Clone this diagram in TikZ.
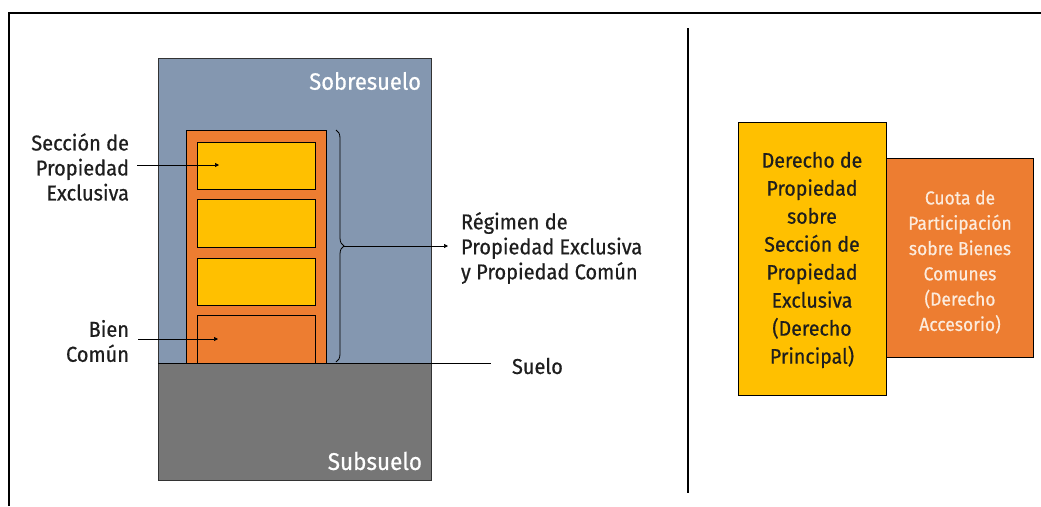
\documentclass[tikz,border=0pt]{standalone}
\usepackage{fontspec}
\setmainfont[FakeBold=0.6,FakeStretch=0.93]{Fira Sans}
\usetikzlibrary{decorations.pathreplacing,arrows.meta}
\definecolor{sueloblue}{HTML}{8497B0}
\definecolor{subgrey}{HTML}{767676}
\definecolor{orng}{HTML}{ED7D31}
\definecolor{gold}{HTML}{FFC000}
\definecolor{inktext}{HTML}{1E1E1E}
\definecolor{lighttext}{HTML}{FCEBDC}
\begin{document}
\begin{tikzpicture}[x=1pt,y=-1pt,
  every node/.style={inner sep=0pt,outer sep=0pt},
  area/.style={draw=black!80,line width=0.8pt,minimum width=#1},
  cell/.style={draw=black,line width=0.8pt,minimum width=118pt},
  lbl/.style={text=inktext,font=\fontsize{21.5}{25}\selectfont},
  wlbl/.style={text=white,font=\fontsize{23.6}{26}\selectfont},
  ptr/.style={-{Triangle[length=4pt,width=4pt]},line width=0.7pt,black}]
\useasboundingbox (0,0) rectangle (1041,506);
% frame
\draw[line width=1.6pt] (9,506) -- (9,13) -- (1041,13);
% ground areas
\node[area=273pt,fill=sueloblue,minimum height=305pt] (sobre) at (294.5,210.5) {};
\node[area=273pt,fill=subgrey,minimum height=117pt] (sub) at (294.5,421.5) {};
\node[wlbl,anchor=east] (sobreT) at (421,81) {Sobresuelo};
\node[wlbl,anchor=east,font=\fontsize{24.2}{26}\selectfont] (subT) at (422,461) {Subsuelo};
% building
\node[draw=black,line width=0.8pt,fill=orng,minimum width=140pt,minimum height=233pt] (bldg) at (256,246.5) {};
\node[cell,fill=gold,minimum height=47pt] (u1) at (256,165.5) {};
\node[cell,fill=gold,minimum height=48pt] (u2) at (256,223) {};
\node[cell,fill=gold,minimum height=47pt] (u3) at (256,281.5) {};
\node[cell,fill=orng,minimum height=48pt] (u4) at (256,339) {};
% suelo line
\coordinate (sueloEnd) at (491,363);
\draw[line width=0.8pt] (sobre.south west) -- (sueloEnd);
\node[lbl,anchor=west] (sueloT) at (512,366) {Suelo};
% left labels
\node[lbl,align=right,anchor=east] (secT) at (129,167) {Sección de\\Propiedad\\Exclusiva};
\coordinate (secTip) at (219,165);
\draw[ptr] (secT.east) ++(8,-2) coordinate (secStart) -- (secTip);
\node[lbl,align=right,anchor=east] (bienT) at (129,341) {Bien\\Común};
\coordinate (bienTip) at (218,339);
\draw[ptr] (bienT.east) ++(9,-2) coordinate (bienStart) -- (bienTip);
% brace
\coordinate (brTop) at (336,130);
\coordinate (brBot) at (336,362);
\draw[line width=0.8pt,decorate,decoration={brace,amplitude=8pt}] (brTop) -- (brBot);
\coordinate (brTip) at (344,246);
\node[lbl,align=left,anchor=west] (regT) at (461,248) {Régimen de\\Propiedad Exclusiva\\y Propiedad Común};
\draw[ptr] (brTip) -- ([xshift=-13pt]regT.west |- brTip);
% divider
\coordinate (divTop) at (688,28);
\coordinate (divBot) at (688,493);
\draw[line width=1.2pt] (divTop) -- (divBot);
% rights
\node[draw=black,line width=0.8pt,fill=orng,minimum width=147pt,minimum height=199pt] (cuota) at (959.5,257.5) {};
\node[text=lighttext,align=center,font=\fontsize{18.8}{25.3}\selectfont] (cuotaT) at (960,262) {Cuota de\\Participación\\sobre Bienes\\Comunes\\(Derecho\\Accesorio)};
\node[draw=black,line width=0.8pt,fill=gold,minimum width=148pt,minimum height=273pt] (derecho) at (812,258.5) {};
\node[text=inktext,align=center,font=\fontsize{21}{28}\selectfont] (derechoT) at (812,260) {Derecho de\\Propiedad\\sobre\\Sección de\\Propiedad\\Exclusiva\\(Derecho\\Principal)};
\end{tikzpicture}
\end{document}
